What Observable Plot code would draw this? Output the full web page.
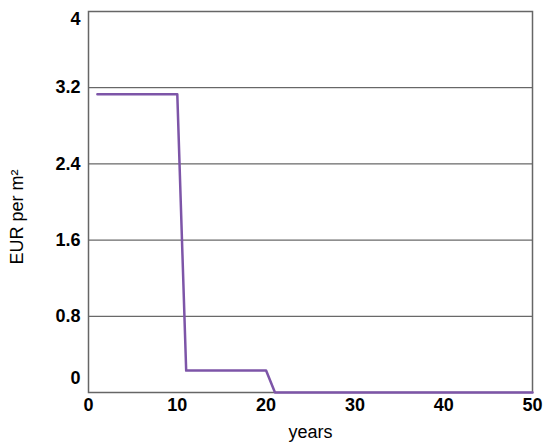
<!DOCTYPE html>
<html>
<head>
<meta charset="utf-8">
<script src="https://cdn.jsdelivr.net/npm/d3@7"></script>
<script src="https://cdn.jsdelivr.net/npm/@observablehq/plot@0.6"></script>
<style>
  html, body { margin: 0; padding: 0; background: #fff; }
  #chart { font-family: "Liberation Sans", Arial, sans-serif; }
</style>
</head>
<body>
<div id="chart"></div>
<script>
const years = [1, 10, 11, 20, 21, 50];
const values = [3.13, 3.13, 0.23, 0.23, 0, 0];
const xTicks = [0, 10, 20, 30, 40, 50];
const yTicks = [0.8, 1.6, 2.4, 3.2];
const yLabel = "EUR per m²";
const xLabel = "years";

const data = years.map((y, i) => ({ year: y, value: values[i] }));

const chart = Plot.plot({
  width: 550,
  height: 448,
  marginLeft: 88,
  marginRight: 18,
  marginTop: 11,
  marginBottom: 56,
  style: { fontFamily: "'Liberation Sans', Arial, sans-serif", background: "#fff", color: "#000" },
  x: { domain: [0, 50] },
  y: { domain: [0, 4] },
  marks: [
    Plot.ruleY(yTicks, { stroke: "#444", strokeWidth: 1 }),
    Plot.frame({ stroke: "#666", strokeWidth: 1.5 }),
    Plot.line(data, { x: "year", y: "value", stroke: "#7d55a8", strokeWidth: 2.5 }),
    Plot.axisY(yTicks, {
      tickSize: 0, tickPadding: 8, tickFormat: d => String(d),
      fontSize: 18, fontWeight: "bold", label: null
    }),
    Plot.text([4], { x: 0, y: d => d, text: d => String(d), textAnchor: "end", dx: -8, dy: 8, fontSize: 18, fontWeight: "bold" }),
    Plot.text([0], { x: 0, y: d => d, text: d => String(d), textAnchor: "end", dx: -8, dy: -14, fontSize: 18, fontWeight: "bold" }),
    Plot.axisX(xTicks, {
      tickSize: 0, tickPadding: 6, fontSize: 18, fontWeight: "bold", label: null
    }),
    Plot.text([xLabel], { frameAnchor: "bottom", text: d => d, dy: 45, fontSize: 18 }),
    Plot.text([yLabel], { frameAnchor: "left", textAnchor: "middle", text: d => d, rotate: -90, dx: -71, dy: 15, fontSize: 18 })
  ]
});

document.getElementById("chart").append(chart);
</script>
</body>
</html>
